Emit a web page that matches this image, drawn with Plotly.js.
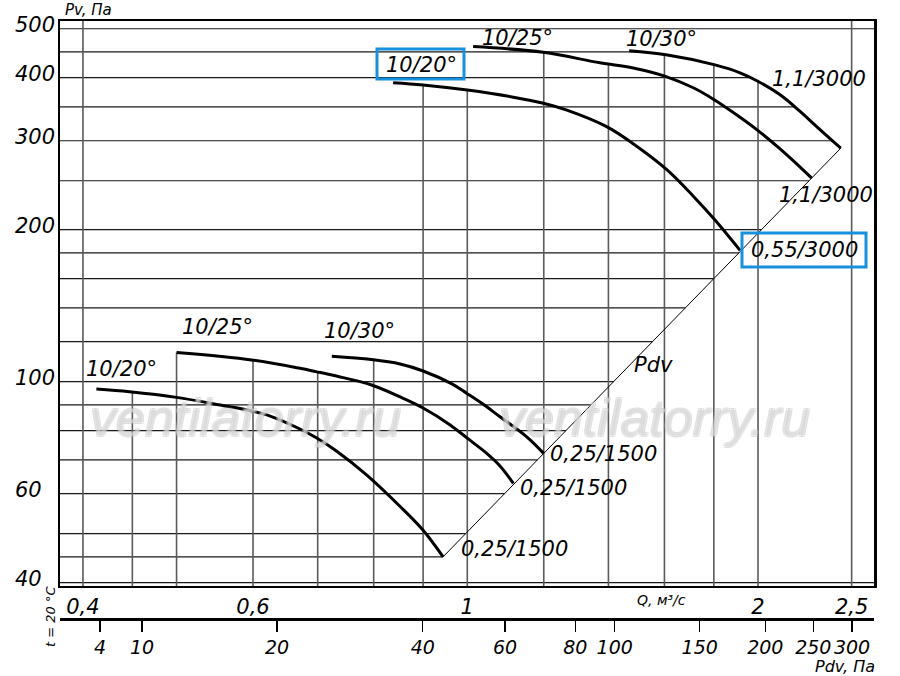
<!DOCTYPE html>
<html><head><meta charset="utf-8">
<script src="https://cdn.plot.ly/plotly-3.0.1.min.js"></script>
<style>html,body{margin:0;padding:0;background:#fff}</style>
</head><body><div id="chart" style="width:900px;height:676px"></div>
<script>
// ---- grid and tick values ----
const qGrid = [0.4,0.45,0.5,0.6,0.7,0.8,0.9,1,1.2,1.4,1.6,1.8,2,2.5];
const pGrid = [40,45,50,60,70,80,90,100,120,140,160,180,200,250,300,350,400,450,500];
const qTickVals = [0.4,0.6,1,2,2.5];
const qTickText = ['0,4','0,6','1','2','2,5'];
const pTickVals = [500,400,300,200,100,60,40];
const pTickText = ['500','400','300','200','100','60','40'];
const pdvTickLabels = ['4','10','20','40','60','80','100','150','200','250','300'];
const pdvTickQ = [0.4166,0.4605,0.6353,0.8992,1.0941,1.2936,1.4211,1.7404,2.0349,2.2818,2.5024];

// ---- curves (Q, m3/s ; Pv, Pa) ----
// 3000 rpm
const upQ20 = [0.838,0.900,1.000,1.116,1.199,1.268,1.394,1.485,1.609,1.714,1.805,1.916];
const upP20 = [391,387,378,366,356,345,320,296,263,233,209,182];
const upQ25 = [1.014,1.199,1.372,1.485,1.606,1.714,1.805,1.916,1.997,2.108,2.211,2.273];
const upP25 = [461,449,428,418,402,382,361,334,315,289,266,253];
const upQ30 = [1.471,1.606,1.805,1.916,1.997,2.108,2.211,2.300,2.436];
const upP30 = [452,444,424,409,394,370,343,320,290];
// 1500 rpm
const loQ20 = [0.413,0.447,0.500,0.555,0.598,0.625,0.671,0.697,0.732,0.787,0.852,0.900,0.944];
const loP20 = [96.7,95.5,93.1,89.9,87.5,85.5,80.6,77.5,72.9,65.3,56.6,50.8,45.0];
const loQ25 = [0.500,0.598,0.671,0.697,0.732,0.796,0.852,0.900,0.960,0.999,1.043,1.081,1.116];
const loP25 = [114.2,110.4,106.3,104.7,102.6,98.5,93.3,88.7,82.1,77.4,72.6,68.1,62.9];
const loQ30 = [0.724,0.796,0.852,0.900,0.964,0.999,1.038,1.081,1.153,1.199];
const loP30 = [112.3,110.6,108.4,105.0,99.0,94.8,90.3,85.2,77.7,72.2];
// dynamic pressure line
const pdvLineQ = [0.944, 2.436];
const pdvLineP = [45.0, 290];

const X_RANGE = [-0.4217, 0.4211];
const Y_RANGE = [1.5954, 2.7143];
const L = Math.log10;
const curves = [[upQ20,upP20],[upQ25,upP25],[upQ30,upP30],[loQ20,loP20],[loQ25,loP25],[loQ30,loP30]];

function pAt(Q,P,q){
  if(q<Q[0]||q>Q[Q.length-1]) return null;
  for(let i=0;i<Q.length-1;i++){
    if(q>=Q[i]&&q<=Q[i+1]){
      const t=(L(q)-L(Q[i]))/(L(Q[i+1])-L(Q[i]));
      return Math.pow(10,L(P[i])+t*(L(P[i+1])-L(P[i])));
    }
  }
  return null;
}
function qAt(Q,P,p){
  let best=null;
  for(let i=0;i<Q.length-1;i++){
    const a=P[i],b=P[i+1];
    if(a!==b && (p-a)*(p-b)<=0){
      const t=(L(p)-L(a))/(L(b)-L(a));
      const q=Math.pow(10,L(Q[i])+t*(L(Q[i+1])-L(Q[i])));
      if(best===null||q>best) best=q;
    }
  }
  return best;
}
const qMin=Math.pow(10,X_RANGE[0]), qMax=Math.pow(10,X_RANGE[1]);
const pMin=Math.pow(10,Y_RANGE[0]), pMax=Math.pow(10,Y_RANGE[1]);

// vertical grid: clipped at the top envelope of curves
const vx=[],vy=[];
qGrid.forEach(q=>{
  let top=null;
  curves.forEach(([Q,P])=>{const v=pAt(Q,P,q); if(v!==null&&(top===null||v>top)) top=v;});
  vx.push(q,q,null); vy.push(pMin, top===null?pMax:top, null);
});
// horizontal grid: clipped at the right envelope (curves + Pdv line)
const hx=[],hy=[];
pGrid.forEach(p=>{
  let right=null;
  curves.concat([[pdvLineQ,pdvLineP]]).forEach(([Q,P])=>{const v=qAt(Q,P,p); if(v!==null&&(right===null||v>right)) right=v;});
  hx.push(qMin, right===null?qMax:right, null); hy.push(p,p,null);
});

const FONT='DejaVu Sans';
const traces=[
  {x:hx,y:hy,mode:'lines',line:{color:'#1a1a1a',width:1.2},hoverinfo:'skip',showlegend:false},
  {x:vx,y:vy,mode:'lines',line:{color:'#5a5a5a',width:1.6},hoverinfo:'skip',showlegend:false}
];
curves.forEach(([Q,P])=>traces.push({x:Q,y:P,mode:'lines',line:{color:'#000',width:3,shape:'spline',smoothing:1},hoverinfo:'skip',showlegend:false}));
traces.push({x:pdvLineQ,y:pdvLineP,xaxis:'x2',yaxis:'y',mode:'lines',line:{color:'#000',width:1},hoverinfo:'skip',showlegend:false});

function px(x){return (x-60)/814;}
function py(y){return (619-y)/598;}
function lab(text,x,y,size,extra){
  return Object.assign({text:text,xref:'paper',yref:'paper',x:px(x),y:py(y),xanchor:'center',yanchor:'middle',
    showarrow:false,font:{family:FONT,size:size||21,style:'italic',color:'#000'}},extra||{});
}
const annotations=[];
['ventilatorry.ru','ventilatorry.ru'].forEach((t,i)=>{
  annotations.push({text:t,xref:'paper',yref:'paper',x:px(i===0?245:654),y:py(418),xanchor:'center',yanchor:'middle',showarrow:false,
    font:{family:'Liberation Sans',size:52,style:'italic',color:'rgba(255,255,255,0.3)',
      shadow:'-1px -1px 0 #bdbdbd, 1px -1px 0 #bdbdbd, -1px 1px 0 #bdbdbd, 1px 1px 0 #bdbdbd'}});
});
annotations.push(
  lab('10/20°',421,65),
  lab('10/25°',517,38),
  lab('10/30°',661,39),
  lab('1,1/3000',819,79),
  lab('1,1/3000',826,195),
  lab('0,55/3000',804,250),
  lab('Pdv',653,365),
  lab('0,25/1500',603,454),
  lab('0,25/1500',573,488),
  lab('0,25/1500',514,549),
  lab('10/20°',121,369),
  lab('10/25°',217,327),
  lab('10/30°',359,331),
  lab('Pv, Па',88,10,15),
  lab('Q, м³/с',661,600,14),
  lab('Pdv, Па',845,666,16),
  lab('t = 20 °C',50,617,13,{textangle:-90})
);
pTickVals.forEach((v,i)=>{
  annotations.push({text:pTickText[i],xref:'paper',x:px(13),xanchor:'left',yref:'y',y:L(v),yanchor:'middle',yshift:4,
    showarrow:false,font:{family:FONT,size:21,style:'italic',color:'#000'}});
});

const blue='#1890de';
const shapes=[
  {type:'rect',xref:'paper',yref:'paper',x0:px(377),x1:px(464),y0:py(79),y1:py(49),line:{color:blue,width:3}},
  {type:'rect',xref:'paper',yref:'paper',x0:px(742),x1:px(866),y0:py(267),y1:py(233),line:{color:blue,width:3}}
];

const layout={
  width:900,height:676,margin:{l:60,r:26,t:21,b:57},
  paper_bgcolor:'#fff',plot_bgcolor:'#fff',showlegend:false,
  xaxis:{type:'log',range:X_RANGE,showgrid:false,zeroline:false,showline:true,mirror:true,linecolor:'#000',linewidth:2.5,
    ticks:'',tickangle:0,tickvals:qTickVals,ticktext:qTickText,tickfont:{family:FONT,size:21,style:'italic',color:'#000'},anchor:'y'},
  xaxis2:{type:'log',range:X_RANGE,overlaying:'x',anchor:'free',position:0,side:'bottom',showgrid:false,zeroline:false,
    showline:true,linecolor:'#000',linewidth:2.5,ticks:'outside',ticklen:11,tickwidth:1.5,tickcolor:'#000',tickangle:0,
    tickvals:pdvTickQ,ticktext:pdvTickLabels,tickfont:{family:FONT,size:19,style:'italic',color:'#000'}},
  yaxis:{type:'log',range:Y_RANGE,domain:[0.0552,1],showgrid:false,zeroline:false,showline:true,mirror:true,
    linecolor:'#000',linewidth:2.5,ticks:'',showticklabels:false},
  annotations:annotations,shapes:shapes
};
Plotly.newPlot('chart',traces,layout,{staticPlot:true,displayModeBar:false});
</script></body></html>
